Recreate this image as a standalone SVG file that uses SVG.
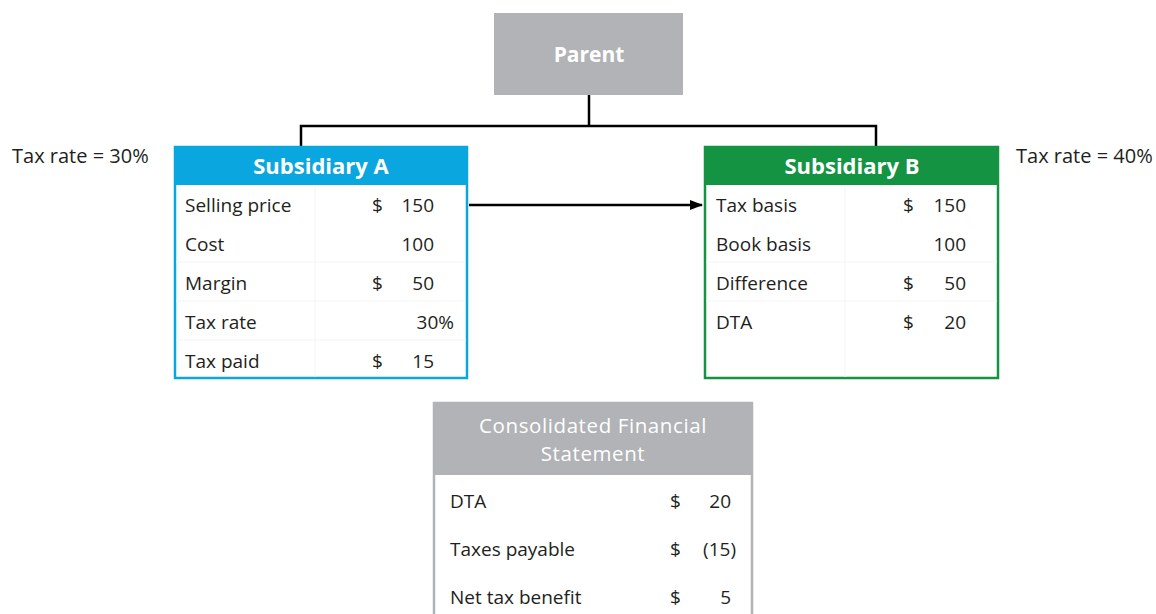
<svg xmlns="http://www.w3.org/2000/svg" width="1156" height="614" viewBox="0 0 1156 614">
<style>
.t{font-family:"Open Sans","Liberation Sans",sans-serif;font-size:19px;fill:#231f20}
.s{font-size:20px}
.r{text-anchor:end}
.h{font-family:"Open Sans","Liberation Sans",sans-serif;font-size:22px;font-weight:bold;fill:#ffffff;text-anchor:middle}
.hp{font-size:21px}
.hc{font-family:"Open Sans","Liberation Sans",sans-serif;font-size:20.5px;letter-spacing:0.6px;fill:#ffffff;text-anchor:middle}
.grid{stroke:#f3f4f5;stroke-width:1}
.conn{stroke:#000;stroke-width:2.5;fill:none}
</style>
<defs>
<marker id="arr" markerWidth="13" markerHeight="10" refX="12" refY="5" orient="auto" markerUnits="userSpaceOnUse"><path d="M0,0 L13,5 L0,10 z" fill="#000"/></marker>
</defs>
<g id="connectors">
<path class="conn" d="M589,95 V126 M301,146 V126 H876 V146"/>
<line x1="469" y1="205" x2="702" y2="205" stroke="#000" stroke-width="2.5" marker-end="url(#arr)"/>
</g>
<g id="parent">
<rect x="494" y="13" width="189" height="82" fill="#b1b3b6"/>
<text class="h hp" x="589" y="62">Parent</text>
</g>
<g id="label-a"><text class="t s" x="12" y="163">Tax rate = 30%</text></g>
<g id="label-b"><text class="t s" x="1016" y="163">Tax rate = 40%</text></g>
<g id="subA">
<rect x="175" y="147" width="292" height="231" fill="#fff" stroke="#0aa6e0" stroke-width="2.5"/>
<rect x="174" y="146" width="294" height="39" fill="#0aa6e0"/>
<path class="grid" d="M315,186 V377 M176,262 H466 M176,301 H466 M176,340 H466"/>
<text class="h" x="321" y="174">Subsidiary A</text>
<text class="t" x="185" y="212">Selling price</text><text class="t" x="372" y="212">$</text><text class="t r" x="434" y="212">150</text>
<text class="t" x="185" y="251">Cost</text><text class="t r" x="434" y="251">100</text>
<text class="t" x="185" y="290">Margin</text><text class="t" x="372" y="290">$</text><text class="t r" x="434" y="290">50</text>
<text class="t" x="185" y="329">Tax rate</text><text class="t r" x="454" y="329">30%</text>
<text class="t" x="185" y="368">Tax paid</text><text class="t" x="372" y="368">$</text><text class="t r" x="434" y="368">15</text>
</g>
<g id="subB">
<rect x="705" y="147" width="293" height="231" fill="#fff" stroke="#149443" stroke-width="2.5"/>
<rect x="704" y="146" width="295" height="39" fill="#149443"/>
<path class="grid" d="M845,186 V377 M706,262 H997 M706,301 H997"/>
<text class="h" x="852" y="174">Subsidiary B</text>
<text class="t" x="716" y="212">Tax basis</text><text class="t" x="903" y="212">$</text><text class="t r" x="966" y="212">150</text>
<text class="t" x="716" y="251">Book basis</text><text class="t r" x="966" y="251">100</text>
<text class="t" x="716" y="290">Difference</text><text class="t" x="903" y="290">$</text><text class="t r" x="966" y="290">50</text>
<text class="t" x="716" y="329">DTA</text><text class="t" x="903" y="329">$</text><text class="t r" x="966" y="329">20</text>
</g>
<g id="consolidated">
<rect x="434" y="403" width="318" height="220" fill="#fff" stroke="#b1b3b6" stroke-width="2.5"/>
<rect x="433" y="402" width="320" height="73" fill="#b1b3b6"/>
<text class="hc" x="593" y="433">Consolidated Financial</text>
<text class="hc" x="593" y="461">Statement</text>
<text class="t" x="450" y="508">DTA</text><text class="t" x="670" y="508">$</text><text class="t r" x="731" y="508">20</text>
<text class="t" x="450" y="556">Taxes payable</text><text class="t" x="670" y="556">$</text><text class="t r" x="736" y="556">(15)</text>
<text class="t" x="450" y="604">Net tax benefit</text><text class="t" x="670" y="604">$</text><text class="t r" x="731" y="604">5</text>
</g>
</svg>
